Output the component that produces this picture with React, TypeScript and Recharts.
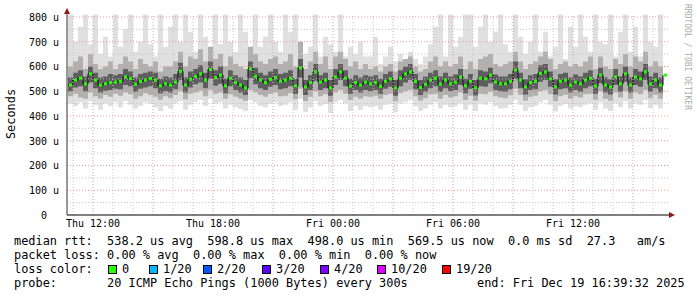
import React from 'react';
import { ComposedChart, Area, Line, XAxis, YAxis, ReferenceLine, ReferenceDot } from 'recharts';

// samples every 15 min, minutes counted from Thu 00:00
const START = 645;
const STEP = 15;

const median = [
  525, 545, 553, 530, 570, 545, 525, 530, 535, 537, 540, 558, 552, 528, 540, 545, 552, 545, 522, 530,
  525, 537, 580, 525, 548, 560, 570, 545, 588, 555, 565, 522, 553, 535, 525, 513, 590, 560, 545, 535,
  548, 555, 540, 545, 553, 522, 594, 517, 535, 578, 537, 545, 513, 558, 578, 553, 521, 535, 525, 537,
  530, 535, 520, 540, 550, 513, 553, 570, 578, 540, 515, 528, 545, 553, 529, 545, 530, 537, 558, 522,
  540, 513, 553, 550, 565, 537, 530, 530, 540, 586, 545, 517, 535, 540, 572, 578, 550, 517, 540, 545,
  525, 537, 530, 545, 553, 521, 565, 525, 517, 558, 530, 570, 525, 558, 550, 578, 529, 545, 525, 565,
];

const maxRtt = [
  810, 700, 760, 810, 690, 810, 650, 720, 640, 810, 680, 750, 810, 660, 700, 810, 690, 640, 810, 680,
  760, 810, 700, 810, 740, 660, 810, 720, 630, 810, 690, 810, 700, 660, 810, 740, 650, 810, 680, 720,
  810, 700, 660, 810, 740, 810, 700, 650, 680, 810, 640, 720, 690, 660, 810, 640, 680, 650, 700, 640,
  640, 720, 610, 640, 680, 620, 650, 610, 660, 630, 610, 640, 690, 760, 810, 640, 810, 680, 720, 810,
  810, 680, 760, 810, 700, 740, 810, 690, 660, 810, 720, 650, 700, 810, 660, 740, 640, 680, 810, 630,
  760, 680, 810, 720, 660, 810, 700, 690, 810, 640, 740, 810, 660, 760, 640, 810, 700, 680, 810, 660,
];

const minRtt = [
  450, 440, 455, 430, 460, 445, 425, 450, 440, 455, 435, 460, 445, 430, 440, 455, 450, 435, 420, 440,
  430, 450, 460, 425, 445, 455, 465, 440, 470, 450, 455, 430, 445, 435, 428, 420, 465, 455, 440, 435,
  450, 455, 440, 445, 455, 425, 470, 415, 435, 460, 440, 448, 412, 455, 465, 450, 420, 440, 425, 440,
  435, 440, 425, 445, 450, 415, 450, 455, 465, 440, 420, 430, 445, 455, 430, 445, 435, 440, 450, 425,
  445, 420, 450, 445, 455, 440, 430, 432, 445, 465, 445, 420, 435, 440, 455, 465, 445, 418, 440, 448,
  430, 440, 435, 445, 450, 425, 455, 430, 420, 450, 435, 460, 430, 450, 445, 465, 432, 445, 430, 455,
];

const midHi = [
  600, 620, 640, 590, 650, 610, 590, 600, 620, 590, 610, 640, 620, 590, 630, 610, 600, 620, 580, 600,
  600, 620, 660, 600, 640, 630, 670, 620, 680, 630, 650, 600, 640, 610, 600, 590, 680, 650, 620, 610,
  630, 640, 610, 620, 650, 600, 700, 590, 620, 660, 610, 640, 590, 640, 660, 630, 600, 620, 590, 610,
  590, 600, 580, 600, 610, 580, 620, 630, 640, 600, 580, 590, 620, 640, 600, 620, 600, 610, 640, 590,
  620, 590, 630, 640, 650, 610, 600, 610, 620, 660, 620, 590, 610, 620, 640, 660, 630, 590, 610, 620,
  600, 610, 600, 620, 640, 590, 640, 600, 590, 630, 610, 650, 600, 640, 620, 660, 600, 620, 600, 640,
];

const midLo = [
  480, 490, 475, 470, 495, 480, 470, 485, 478, 490, 482, 495, 488, 470, 480, 492, 485, 478, 466, 480,
  472, 485, 500, 468, 490, 495, 502, 480, 505, 490, 495, 470, 488, 478, 470, 462, 505, 495, 485, 478,
  490, 495, 480, 482, 492, 468, 510, 460, 478, 500, 480, 488, 455, 495, 505, 490, 465, 478, 470, 480,
  478, 482, 470, 485, 490, 460, 492, 500, 505, 480, 462, 472, 488, 490, 470, 485, 475, 480, 495, 465,
  482, 462, 490, 488, 498, 480, 475, 472, 484, 510, 486, 462, 478, 482, 500, 505, 488, 460, 480, 486,
  470, 480, 475, 488, 490, 466, 500, 470, 462, 495, 475, 500, 470, 495, 488, 505, 472, 486, 470, 498,
];

const coreHi = [
  555, 575, 585, 560, 600, 575, 555, 560, 570, 565, 570, 590, 580, 555, 570, 575, 580, 575, 550, 560,
  555, 570, 615, 555, 580, 590, 605, 575, 620, 585, 600, 550, 585, 565, 555, 545, 620, 595, 575, 565,
  580, 590, 570, 575, 585, 550, 630, 545, 565, 610, 565, 575, 545, 590, 610, 585, 550, 565, 555, 565,
  560, 565, 550, 570, 580, 545, 585, 600, 610, 570, 545, 558, 575, 585, 560, 575, 560, 568, 590, 550,
  570, 545, 585, 580, 595, 568, 560, 560, 570, 620, 575, 548, 565, 570, 605, 610, 580, 548, 570, 575,
  555, 568, 560, 575, 585, 550, 595, 555, 548, 590, 560, 600, 555, 590, 580, 610, 560, 575, 555, 595,
];

const coreLo = [
  500, 515, 520, 500, 535, 512, 495, 502, 505, 510, 508, 525, 520, 498, 510, 515, 520, 512, 492, 500,
  495, 508, 545, 495, 515, 528, 535, 512, 550, 522, 530, 492, 520, 505, 495, 485, 552, 528, 512, 505,
  518, 525, 508, 512, 520, 490, 555, 485, 505, 542, 505, 512, 482, 525, 545, 520, 490, 505, 495, 505,
  500, 505, 490, 510, 518, 482, 520, 535, 545, 508, 485, 498, 512, 520, 498, 512, 500, 505, 525, 492,
  510, 483, 520, 518, 532, 505, 500, 498, 508, 550, 512, 487, 505, 508, 538, 545, 518, 487, 508, 512,
  495, 505, 498, 512, 520, 490, 532, 495, 487, 525, 498, 538, 495, 525, 518, 545, 498, 512, 495, 532,
];

const xTicks = [720, 1080, 1440, 1800, 2160];
const xTickLabels = ['Thu 12:00', 'Thu 18:00', 'Fri 00:00', 'Fri 06:00', 'Fri 12:00'];
const yTicks = [0, 100, 200, 300, 400, 500, 600, 700, 800];
const yMajor = [100, 200, 300, 400, 500, 600, 700, 800];
const yMinor = [50, 150, 250, 350, 450, 550, 650, 750];
const xMajor = [720, 900, 1080, 1260, 1440, 1620, 1800, 1980, 2160, 2340];
const xMinor = [660, 780, 840, 960, 1020, 1140, 1200, 1320, 1380, 1500, 1560, 1680, 1740, 1860, 1920, 2040, 2100, 2220, 2280, 2400];

const lossColors = ['#26ff00', '#00b8ff', '#0059ff', '#5e00ff', '#7e00ff', '#dd00ff', '#ff0000'];
const lossLabels = ['0', '1/20', '2/20', '3/20', '4/20', '10/20', '19/20'];
const lossLeft = [108, 149, 203, 262, 320, 377, 442];

const rttLine = 'median rtt:  538.2 us avg  598.8 us max  498.0 us min  569.5 us now  0.0 ms sd  27.3   am/s';
const lossLine = 'packet loss: 0.00 % avg  0.00 % max  0.00 % min  0.00 % now';
const probeLine = 'probe:       20 ICMP Echo Pings (1000 Bytes) every 300s';
const endLine = 'end: Fri Dec 19 16:39:32 2025';

const data = median.map((m, i) => ({
  t: START + i * STEP,
  med: m,
  lo: minRtt[i],
  hi: maxRtt[i],
  ml: midLo[i],
  mh: midHi[i],
  cl: coreLo[i],
  ch: coreHi[i],
}));

const MONO = "'DejaVu Sans Mono', monospace";

const YTick = ({ x, y, payload }: any) => (
  <text x={x - 8} y={y} dy={4} textAnchor="end" fontFamily={MONO} fontSize={10} fill="#000">
    {payload.value === 0 ? '0\u00a0\u00a0' : `${payload.value} u`}
  </text>
);

const XTick = ({ x, y, payload }: any) => (
  <text x={x} y={y} dy={12} textAnchor="middle" fontFamily={MONO} fontSize={10} fill="#000">
    {xTickLabels[xTicks.indexOf(payload.value)]}
  </text>
);

const GreenDot = (p: any) => (
  <rect key={`g${p.index}`} x={p.cx + 1} y={p.cy - 1.5} width={3} height={3} fill="#26ff00" />
);

const text: React.CSSProperties = {
  position: 'absolute',
  fontFamily: MONO,
  fontSize: '11.9px',
  lineHeight: '12px',
  whiteSpace: 'pre',
  color: '#000',
};

export default function App() {
  return (
    <div style={{ position: 'absolute', left: 0, top: 0, width: 697, height: 297, background: '#fff' }}>
      <ComposedChart width={697} height={297} data={data} margin={{ top: 14, right: 28, bottom: 62, left: 0 }}>
        <XAxis
          dataKey="t"
          type="number"
          domain={[642, 2448]}
          ticks={xTicks}
          tick={<XTick />}
          tickLine={false}
          tickSize={0}
          tickMargin={0}
          height={20}
          axisLine={{ stroke: '#000' }}
        />
        <YAxis
          type="number"
          domain={[0, 812]}
          ticks={yTicks}
          tick={<YTick />}
          tickLine={false}
          tickSize={0}
          tickMargin={0}
          width={67}
          axisLine={{ stroke: '#333' }}
        />
        <Area dataKey={(d: any) => [d.lo, d.hi]} type="stepAfter" stroke="none" fill="#e0e0e0" fillOpacity={1} isAnimationActive={false} />
        <Area dataKey={(d: any) => [d.ml, d.mh]} type="stepAfter" stroke="none" fill="#b0b0b0" fillOpacity={1} isAnimationActive={false} />
        <Area dataKey={(d: any) => [d.cl, d.ch]} type="stepAfter" stroke="none" fill="#5e5e5e" fillOpacity={1} isAnimationActive={false} />
        <Line dataKey="med" type="stepAfter" stroke="#111" strokeWidth={1} dot={false} activeDot={false} isAnimationActive={false} />
        {yMinor.map((v) => (
          <ReferenceLine key={`ym${v}`} y={v} stroke="#c4c4c4" strokeDasharray="1 2" />
        ))}
        {xMinor.map((v) => (
          <ReferenceLine key={`xm${v}`} x={v} stroke="#c4c4c4" strokeDasharray="1 2" />
        ))}
        {yMajor.map((v) => (
          <ReferenceLine key={`yM${v}`} y={v} stroke="#e49a9a" strokeDasharray="1 2" />
        ))}
        {xMajor.map((v) => (
          <ReferenceLine key={`xM${v}`} x={v} stroke="#e49a9a" strokeDasharray="1 2" />
        ))}
        <Line dataKey="med" stroke="none" dot={GreenDot} activeDot={false} isAnimationActive={false} />
        <ReferenceDot
          x={2448}
          y={0}
          ifOverflow="visible"
          shape={(p: any) => (
            <g>
              <line x1={p.cx} y1={p.cy} x2={p.cx + 2} y2={p.cy} stroke="#000" />
              <polygon points={`${p.cx},${p.cy - 3} ${p.cx},${p.cy + 3} ${p.cx + 6},${p.cy}`} fill="#8b1a1a" />
            </g>
          )}
        />
        <ReferenceDot
          x={642}
          y={812}
          ifOverflow="visible"
          shape={(p: any) => (
            <polygon points={`${p.cx - 3},${p.cy} ${p.cx + 3},${p.cy} ${p.cx},${p.cy - 6}`} fill="#8b1a1a" />
          )}
        />
      </ComposedChart>

      <div
        style={{
          ...text,
          left: 11,
          top: 114,
          transform: 'translate(-50%, -50%) rotate(-90deg)',
        }}
      >
        Seconds
      </div>
      <div
        style={{
          position: 'absolute',
          left: 683,
          top: 4,
          writingMode: 'vertical-rl',
          fontFamily: MONO,
          fontSize: '8px',
          lineHeight: '9px',
          color: '#aaaaaa',
          whiteSpace: 'pre',
        }}
      >
        RRDTOOL / TOBI OETIKER
      </div>

      <div style={{ ...text, left: 14, top: 235 }}>{rttLine}</div>
      <div style={{ ...text, left: 14, top: 249 }}>{lossLine}</div>
      <div style={{ ...text, left: 14, top: 263 }}>loss color:</div>
      {lossColors.map((c, i) => (
        <React.Fragment key={c}>
          <div
            style={{
              position: 'absolute',
              left: lossLeft[i],
              top: 265,
              width: 9,
              height: 9,
              boxSizing: 'border-box',
              border: '1px solid #000',
              background: c,
            }}
          />
          <div style={{ ...text, left: lossLeft[i] + 14, top: 263 }}>{lossLabels[i]}</div>
        </React.Fragment>
      ))}
      <div style={{ ...text, left: 14, top: 277 }}>{probeLine}</div>
      <div style={{ ...text, left: 477, top: 277 }}>{endLine}</div>
    </div>
  );
}
